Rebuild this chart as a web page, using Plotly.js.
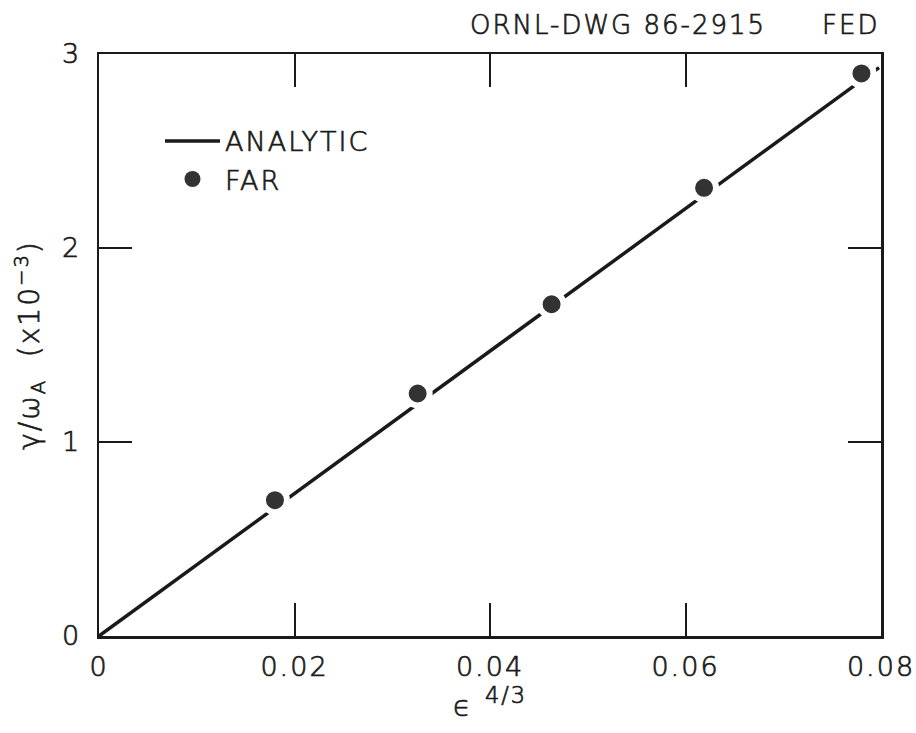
<!DOCTYPE html>
<html>
<head>
<meta charset="utf-8">
<script src="https://cdn.plot.ly/plotly-3.0.1.min.js"></script>
<style>
html,body{margin:0;padding:0;background:#fff;}
#chart{width:916px;height:733px;}
text{letter-spacing:2px;}
.main-svg text{stroke:#1a1a1a;stroke-width:0.7px;}
</style>
</head>
<body>
<div id="chart"></div>
<script>
// Analytic line (gamma/omega_A vs eps^(4/3))
const analyticX = [0, 0.0798];
const analyticY = [0, 2.93];
// FAR code results
const farX = [0.0180, 0.0326, 0.0463, 0.0619, 0.0780];
const farY = [0.70, 1.25, 1.71, 2.31, 2.90];
// Tick labels
const xTickVals = [0, 0.02, 0.04, 0.06, 0.08];
const xTickText = ['0', '0.02', '0.04', '0.06', '0.08'];
const yTickVals = [0, 1, 2, 3];
const yTickText = ['0', '1', '2', '3'];

const FONT = 'DejaVu Sans, Liberation Sans, sans-serif';
const INK = '#1a1a1a';
const W = 200;

const traces = [
  {
    x: analyticX, y: analyticY, type: 'scatter', mode: 'lines',
    name: 'ANALYTIC', line: {color: INK, width: 3.5}, showlegend: true
  },
  {
    x: farX, y: farY, type: 'scatter', mode: 'markers',
    name: 'FAR', showlegend: false,
    marker: {color: '#333333', size: 24, line: {color: '#ffffff', width: 6}}
  },
  {
    x: [null], y: [null], type: 'scatter', mode: 'markers',
    name: 'FAR', showlegend: true,
    marker: {color: '#333333', size: 16, line: {width: 0}}
  }
];

const axisCommon = {
  showline: true, linecolor: INK, linewidth: 2.5, mirror: 'ticks',
  ticks: 'inside', ticklen: 33, tickwidth: 2, tickcolor: INK,
  showgrid: false, zeroline: false, fixedrange: true,
  tickfont: {family: FONT, size: 27, color: INK, weight: W}
};

const layout = {
  width: 916, height: 733,
  margin: {l: 99, r: 35, t: 54, b: 97},
  paper_bgcolor: '#ffffff', plot_bgcolor: '#ffffff',
  font: {family: FONT, color: INK, weight: W},
  showlegend: true,
  legend: {
    x: 0.078, y: 0.892, xanchor: 'left', yanchor: 'top',
    bgcolor: 'rgba(0,0,0,0)', borderwidth: 0,
    font: {family: FONT, size: 27, color: INK, weight: W},
    itemwidth: 55, tracegroupgap: 0
  },
  xaxis: Object.assign({}, axisCommon, {
    range: [0, 0.08], tickvals: xTickVals, ticktext: xTickText,
    ticklabelstandoff: 5,
    title: {text: '<span style="font-size:29px">\u03F5</span> <sup>4/3</sup>', font: {family: FONT, size: 32, color: INK, weight: W}, standoff: 9}
  }),
  yaxis: Object.assign({}, axisCommon, {
    range: [0, 3], tickvals: yTickVals, ticktext: yTickText,
    ticklabelstandoff: 10,
    title: {text: '\u03B3/\u03C9<sub>A</sub>  (x10<sup>\u22123</sup>)', font: {family: FONT, size: 28, color: INK, weight: W}, standoff: 14}
  }),
  annotations: [
    {xref: 'paper', yref: 'paper', x: 0.664, y: 1.0, xanchor: 'center', yanchor: 'bottom', yshift: 12,
     text: 'ORNL-DWG 86-2915', showarrow: false, font: {family: FONT, size: 26, color: INK, weight: W}},
    {xref: 'paper', yref: 'paper', x: 1.0, y: 1.0, xanchor: 'right', yanchor: 'bottom', yshift: 12,
     text: 'FED', showarrow: false, font: {family: FONT, size: 26, color: INK, weight: W}}
  ]
};

Plotly.newPlot('chart', traces, layout, {displayModeBar: false, staticPlot: true});
</script>
</body>
</html>
